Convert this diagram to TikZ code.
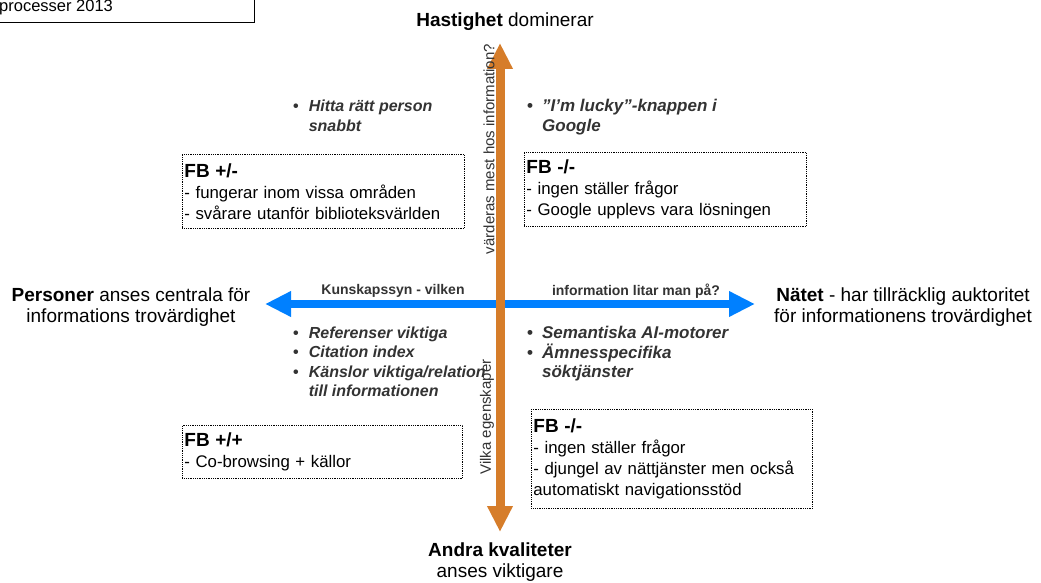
\documentclass[tikz,border=0pt]{standalone}
\usepackage{fontspec}
\setmainfont{Liberation Sans}
\usetikzlibrary{arrows.meta}
\definecolor{axisorange}{RGB}{214,125,42}
\definecolor{axisblue}{RGB}{0,128,255}
\definecolor{notegray}{RGB}{51,51,51}

\begin{document}
\begin{tikzpicture}[x=1pt,y=-1pt,
        every node/.style={inner sep=0pt,font=\fontsize{16.5}{21}\selectfont},
        pole/.style={align=center,font=\fontsize{19}{21.5}\selectfont},
        fbbox/.style={draw,densely dotted,line width=0.8pt,anchor=north west,align=left,inner xsep=2pt,inner ysep=0pt,font=\fontsize{16.8}{21}\selectfont},
        bullets/.style={anchor=base west,text=notegray,font=\fontsize{16}{19.5}\selectfont\bfseries\itshape},
        axislabel/.style={text=notegray,font=\fontsize{14}{16}\selectfont\bfseries},
        sidelabel/.style={text=notegray,rotate=90,font=\fontsize{15}{17}\selectfont}
    ]
    \useasboundingbox (0,0) rectangle (1041,583);
    \fill[white] (0,0) rectangle (1041,583);

    \node[draw,line width=0.8pt,anchor=south east,minimum width=300,minimum height=50] (hdr) at (255,23) {};
    \node[anchor=base west] (hdrtext) at (-1,12) {processer 2013};

    \coordinate (left) at (265,304);
    \coordinate (right) at (755,304);
    \coordinate (top) at (500,43);
    \coordinate (bottom) at (500,532);

    \draw[axisblue,line width=8pt,{Triangle[width=24pt,length=26pt]}-{Triangle[width=24pt,length=26pt]}] (left) -- (right);
    \draw[axisorange,line width=9pt,{Triangle[width=24pt,length=26pt]}-{Triangle[width=24pt,length=26pt]}] (bottom) -- (top);

    \node[pole] (speed) at (505,22) {\textbf{Hastighet} dominerar};
    \node[pole] (other) at (500,562) {\textbf{Andra kvaliteter}\\anses viktigare};
    \node[pole] (persons) at (131,307) {\textbf{Personer} anses centrala för\\informations trovärdighet};
    \node[pole] (net) at (903,307) {\textbf{Nätet} - har tillräcklig auktoritet\\för informationens trovärdighet};

    \node[axislabel] (viewl) at (393,291) {Kunskapssyn - vilken};
    \node[axislabel] (viewr) at (636,291) {information litar man på?};
    \node[sidelabel] (valued) at (489,149) {värderas mest hos information?};
    \node[sidelabel] (props) at (487,417) {Vilka egenskaper};

    \node[bullets] (qa) at (293,112) {\begin{tabular}[t]{@{}l@{\hspace{10pt}}l@{}}\upshape\textbullet & Hitta rätt person\\ & snabbt\end{tabular}};
    \node[bullets,font=\fontsize{17}{19.5}\selectfont\bfseries\itshape] (qb) at (527,112) {\begin{tabular}[t]{@{}l@{\hspace{9pt}}l@{}}\upshape\textbullet & ”I’m lucky”-knappen i\\ & Google\end{tabular}};
    \node[bullets] (qc) at (293,338) {\begin{tabular}[t]{@{}l@{\hspace{10pt}}l@{}}\upshape\textbullet & Referenser viktiga\\\upshape\textbullet & Citation index\\\upshape\textbullet & Känslor viktiga/relation\\ & till informationen\end{tabular}};
    \node[bullets,font=\fontsize{17}{19.5}\selectfont\bfseries\itshape] (qd) at (527,338) {\begin{tabular}[t]{@{}l@{\hspace{9pt}}l@{}}\upshape\textbullet & Semantiska AI-motorer\\\upshape\textbullet & Ämnesspecifika\\ & söktjänster\end{tabular}};

    \node[fbbox,text width=278,minimum height=74] (fba) at (182,154) {{\fontsize{19}{21}\selectfont\bfseries FB +/-}\\- fungerar inom vissa områden\\- svårare utanför biblioteksvärlden};
    \node[fbbox,text width=278,minimum height=74] (fbb) at (524,152) {{\fontsize{19}{21}\selectfont\bfseries FB -/-}\\- ingen ställer frågor\\- Google upplevs vara lösningen};
    \node[fbbox,text width=276,minimum height=53] (fbc) at (182,425) {{\fontsize{19}{21}\selectfont\bfseries FB +/+}\\- Co-browsing + källor};
    \node[fbbox,text width=277,minimum height=99] (fbd) at (531,409) {{\fontsize{19}{21}\selectfont\bfseries FB -/-}\\- ingen ställer frågor\\- djungel av nättjänster men också\\automatiskt navigationsstöd};
\end{tikzpicture}
\end{document}
